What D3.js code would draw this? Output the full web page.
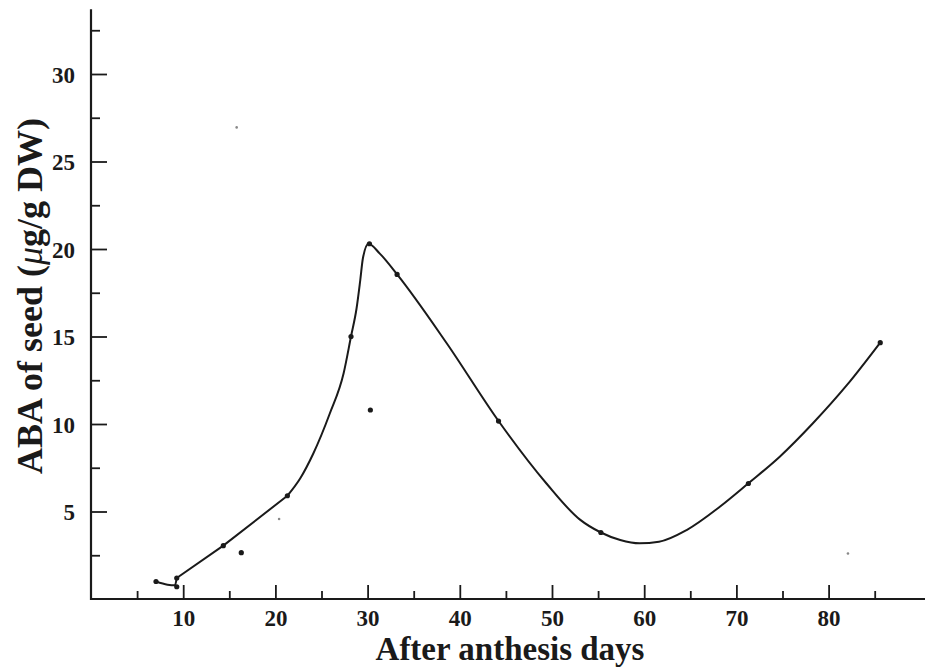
<!DOCTYPE html>
<html>
<head>
<meta charset="utf-8">
<script src="https://cdn.jsdelivr.net/npm/d3@7/dist/d3.min.js"></script>
<style>
  html, body { margin: 0; padding: 0; background: #fff; }
  svg { display: block; }
  text { font-family: "Liberation Serif", "DejaVu Serif", serif; font-weight: bold; fill: #1a1a1a; }
</style>
</head>
<body>
<svg id="chart" width="925" height="669"></svg>
<script>
// Measured ABA content of seed, days after anthesis
const sampleDays = [7.05, 9.3, 9.3, 14.35, 16.3, 21.3, 28.2, 30.2, 30.3, 33.2, 44.2, 55.3, 71.3, 85.6];
const sampleAba  = [1.0, 1.2, 0.7, 3.05, 2.65, 5.9, 15.0, 20.3, 10.8, 18.55, 10.17, 3.8, 6.6, 14.65];

// Faint extra specks
const speckDays = [20.4, 15.8, 82.1];
const speckAba  = [4.57, 26.95, 2.6];

// Hand-drawn trend curve, in three pieces: the early hook, the straight rise, the smooth remainder
const hookDays = [7.05, 8.3, 9.1, 9.3];
const hookAba  = [1.0, 0.82, 0.78, 1.2];
const riseDays = [9.3, 14.35, 21.3];
const riseAba  = [1.2, 3.05, 5.9];
const restDays = [21.3, 22.7, 24.1, 25.9, 27.4, 28.2, 28.8, 29.2, 29.5, 30.1,
                  31.3, 33.2, 38.6, 44.2, 49.4, 53.0, 55.3, 57.4, 59.5, 61.6, 64.6, 68.2, 71.3, 74.7, 78.3, 82.0, 85.6];
const restAba  = [5.9, 6.9, 8.3, 10.6, 12.9, 15.0, 16.6, 18.2, 19.5, 20.3,
                  19.75, 18.55, 14.6, 10.17, 6.6, 4.55, 3.8, 3.37, 3.18, 3.27, 3.94, 5.27, 6.61, 8.13, 10.04, 12.23, 14.65];

// Axis ticks
const xMajorTicks = [10, 20, 30, 40, 50, 60, 70, 80];
const xMinorTicks = [5, 15, 25, 35, 45, 55, 65, 75, 85];
const yMajorTicks = [5, 10, 15, 20, 25, 30];
const yMinorTicks = [2.5, 7.5, 12.5, 17.5, 22.5, 27.5, 32.5];

const xTitle = "After anthesis days";

const svg = d3.select("#chart");
const x = d3.scaleLinear().domain([0, 90]).range([91, 920.8]);
const y = d3.scaleLinear().domain([0, 33.7]).range([599, 9.25]);

const ink = "#1a1a1a";

// x axis: major ticks with labels, then minor ticks
const gx = svg.append("g").attr("transform", `translate(0,${y(0)})`);
gx.call(d3.axisBottom(x).tickValues(xMajorTicks).tickSize(-14).tickPadding(0).tickFormat(d3.format("d")));
gx.append("g").call(d3.axisBottom(x).tickValues(xMinorTicks).tickSize(-8).tickFormat(""));
gx.selectAll(".domain").remove();
gx.selectAll("line").attr("stroke", ink).attr("stroke-width", 1.8);
gx.selectAll(".tick text").attr("y", 27).attr("dy", 0).style("font-size", "23px").attr("fill", ink);
gx.append("line").attr("x1", x(0) - 1).attr("x2", 925).attr("y1", 0).attr("y2", 0)
  .attr("stroke", ink).attr("stroke-width", 2.2);

// y axis: ticks pointing inward
const gy = svg.append("g").attr("transform", `translate(${x(0)},0)`);
gy.call(d3.axisLeft(y).tickValues(yMajorTicks).tickSize(-16).tickPadding(0).tickFormat(d3.format("d")));
gy.append("g").call(d3.axisLeft(y).tickValues(yMinorTicks).tickSize(-9).tickFormat(""));
gy.selectAll(".domain").remove();
gy.selectAll("line").attr("stroke", ink).attr("stroke-width", 1.8);
gy.selectAll(".tick text").attr("x", -16).attr("dy", "0.35em").style("font-size", "23px").attr("fill", ink);
gy.append("line").attr("x1", 0).attr("x2", 0).attr("y1", y(33.7)).attr("y2", y(0) + 1)
  .attr("stroke", ink).attr("stroke-width", 2.2);

// Axis titles
svg.append("text").attr("x", 510).attr("y", 660).attr("text-anchor", "middle")
  .style("font-size", "33px").text(xTitle);

const yt = svg.append("text").attr("transform", `translate(42,296) rotate(-90)`)
  .attr("text-anchor", "middle").style("font-size", "36px");
yt.append("tspan").text("ABA of seed (");
yt.append("tspan").style("font-style", "italic").style("font-weight", "normal").text("μ");
yt.append("tspan").text("g/g DW)");

// Trend curve
const toPts = (ds, vs) => ds.map((d, i) => [d, vs[i]]);
const pieces = [
  { pts: toPts(hookDays, hookAba), curve: d3.curveMonotoneX },
  { pts: toPts(riseDays, riseAba), curve: d3.curveLinear },
  { pts: toPts(restDays, restAba), curve: d3.curveMonotoneX }
];
svg.append("g").selectAll("path")
  .data(pieces)
  .join("path")
  .attr("fill", "none")
  .attr("stroke", ink)
  .attr("stroke-width", 2)
  .attr("stroke-linejoin", "round")
  .attr("stroke-linecap", "round")
  .attr("d", p => d3.line().x(d => x(d[0])).y(d => y(d[1])).curve(p.curve)(p.pts));

// Sample points
svg.append("g").selectAll("circle")
  .data(toPts(sampleDays, sampleAba))
  .join("circle")
  .attr("cx", d => x(d[0])).attr("cy", d => y(d[1]))
  .attr("r", 2.6).attr("fill", ink);

svg.append("g").selectAll("circle")
  .data(toPts(speckDays, speckAba))
  .join("circle")
  .attr("cx", d => x(d[0])).attr("cy", d => y(d[1]))
  .attr("r", 1.3).attr("fill", "#888");
</script>
</body>
</html>
